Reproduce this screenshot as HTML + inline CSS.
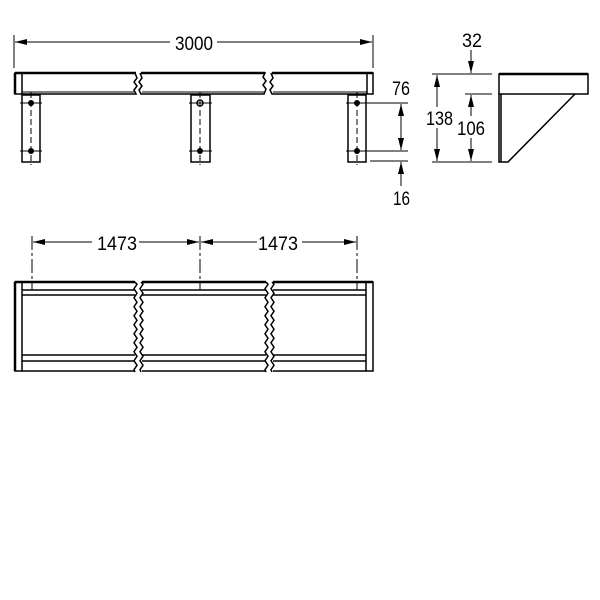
<!DOCTYPE html>
<html><head><meta charset="utf-8"><style>html,body{margin:0;padding:0;background:#fff}svg{display:block}text{font-size:19px}</style></head>
<body>
<svg width="600" height="600" viewBox="0 0 600 600" xmlns="http://www.w3.org/2000/svg" font-family="Liberation Sans, sans-serif" fill="none" stroke="#000">
<defs>
<marker id="a" markerWidth="12" markerHeight="6" refX="12" refY="3" orient="auto" markerUnits="userSpaceOnUse"><path d="M0,0 L12,3 L0,6Z" fill="#000" stroke="none"/></marker>
</defs>
<!-- TOP VIEW -->
<g stroke-width="1">
<line x1="14" y1="35" x2="14" y2="68"/><line x1="373" y1="35" x2="373" y2="68"/>
<line x1="170" y1="42" x2="15" y2="42" marker-end="url(#a)"/>
<line x1="217" y1="42" x2="372" y2="42" marker-end="url(#a)"/>
</g>
<g fill="#000" stroke="none">
<text x="175" y="50" textLength="38" lengthAdjust="spacingAndGlyphs">3000</text>
<text x="392" y="95" textLength="18" lengthAdjust="spacingAndGlyphs">76</text>
<text x="393" y="205" textLength="17" lengthAdjust="spacingAndGlyphs">16</text>
<text x="462" y="47" textLength="20" lengthAdjust="spacingAndGlyphs">32</text>
<text x="426" y="125" textLength="27" lengthAdjust="spacingAndGlyphs">138</text>
<text x="457" y="135" textLength="28" lengthAdjust="spacingAndGlyphs">106</text>
<text x="97" y="250" textLength="40" lengthAdjust="spacingAndGlyphs">1473</text>
<text x="258" y="250" textLength="40" lengthAdjust="spacingAndGlyphs">1473</text>
</g>
<!-- shelf top segments -->
<g stroke-width="1.5">
<path d="M136 73 H15 V94 H136 l-2 -4 l3 -4 l-3 -4 l3 -4 l-2 -5"/>
<line x1="22" y1="73" x2="22" y2="94"/>
<path d="M141 73 H265 l-2 4 l3 4 l-3 4 l3 4 l-2 5 H141 l-2 -4 l3 -4 l-3 -4 l3 -4 l-2 -5"/>
<path d="M272 73 H373 V94 H272 l-2 -4 l3 -4 l-3 -4 l3 -4 l-2 -5"/>
<line x1="367" y1="73" x2="367" y2="94"/>
</g>
<g stroke-width="2.5"><line x1="15" y1="73" x2="136" y2="73"/><line x1="141" y1="73" x2="265" y2="73"/><line x1="272" y1="73" x2="373" y2="73"/><line x1="15" y1="73" x2="15" y2="94"/></g>
<g stroke-width="1"><line x1="22" y1="92" x2="134" y2="92"/><line x1="142" y1="92" x2="264" y2="92"/><line x1="273" y1="92" x2="367" y2="92"/></g>
<!-- legs -->
<g stroke-width="1.5">
<rect x="22" y="95" width="18" height="67"/>
<rect x="191" y="95" width="19" height="67"/>
<rect x="348" y="95" width="18" height="67"/>
</g>
<g stroke-width="1" stroke-dasharray="6,3">
<line x1="31" y1="92" x2="31" y2="165"/><line x1="200" y1="92" x2="200" y2="165"/><line x1="357" y1="92" x2="357" y2="165"/>
</g>
<g fill="#000" stroke="none">
<circle cx="31" cy="103" r="3"/><circle cx="31" cy="151" r="3"/>
<circle cx="200" cy="151" r="3"/><circle cx="357" cy="103" r="3"/><circle cx="357" cy="151" r="3"/>
</g>
<circle cx="200" cy="103" r="3" stroke-width="1.5"/>
<g stroke-width="1">
<line x1="20" y1="103" x2="42" y2="103"/><line x1="20" y1="151" x2="42" y2="151"/>
<line x1="189" y1="103" x2="212" y2="103"/><line x1="189" y1="151" x2="212" y2="151"/>
<line x1="346" y1="103" x2="408" y2="103"/><line x1="346" y1="151" x2="408" y2="151"/>
<line x1="370" y1="161" x2="408" y2="161"/>
<line x1="401" y1="127" x2="401" y2="104" marker-end="url(#a)"/>
<line x1="401" y1="127" x2="401" y2="150" marker-end="url(#a)"/>
<line x1="401" y1="186" x2="401" y2="162" marker-end="url(#a)"/>
</g>
<!-- SIDE VIEW -->
<g stroke-width="1">
<line x1="432" y1="74" x2="492" y2="74"/><line x1="432" y1="162" x2="492" y2="162"/><line x1="465" y1="94" x2="492" y2="94"/>
<line x1="437" y1="107" x2="437" y2="75" marker-end="url(#a)"/>
<line x1="437" y1="128" x2="437" y2="161" marker-end="url(#a)"/>
<line x1="471" y1="50" x2="471" y2="73" marker-end="url(#a)"/>
<line x1="471" y1="116" x2="471" y2="95" marker-end="url(#a)"/>
<line x1="471" y1="138" x2="471" y2="161" marker-end="url(#a)"/>
</g>
<g stroke-width="1.5">
<rect x="499" y="74" width="89" height="20"/>
<path d="M499 94 V162 H508 L575 94"/>
<line x1="501" y1="94" x2="501" y2="162"/>
</g>
<line x1="499" y1="74" x2="588" y2="74" stroke-width="2.5"/>
<!-- BOTTOM VIEW -->
<g stroke-width="1">
<line x1="32" y1="236" x2="32" y2="290" stroke-dasharray="14,3,3,3"/>
<line x1="200" y1="236" x2="200" y2="290" stroke-dasharray="14,3,3,3"/>
<line x1="357" y1="236" x2="357" y2="290" stroke-dasharray="14,3,3,3"/>
<line x1="92" y1="242" x2="33" y2="242" marker-end="url(#a)"/>
<line x1="139" y1="242" x2="199" y2="242" marker-end="url(#a)"/>
<line x1="257" y1="242" x2="201" y2="242" marker-end="url(#a)"/>
<line x1="302" y1="242" x2="356" y2="242" marker-end="url(#a)"/>
</g>
<g stroke-width="1.5">
<rect x="15" y="282" width="7" height="89"/>
<rect x="366" y="282" width="7" height="89"/>
<path d="M22 282 H135 M22 371 H135 M142 282 H266 M142 371 H266 M273 282 H366 M273 371 H366"/>
<path d="M22 290 H135 M22 295 H135 M142 290 H266 M142 295 H266 M273 290 H366 M273 295 H366"/>
<path d="M22 355 H135 M22 361 H135 M142 355 H266 M142 361 H266 M273 355 H366 M273 361 H366"/>
<path d="M135 282 l2 2.25 l-3 4.5 l3 4.5 l-3 4.5 l3 4.5 l-3 4.5 l3 4.5 l-3 4.5 l3 4.5 l-3 4.5 l3 4.5 l-3 4.5 l3 4.5 l-3 4.5 l3 4.5 l-3 4.5 l3 4.5 l-3 4.5 l3 4.5 l-3 4.5 l1 2.25"/>
<path d="M141 282 l2 2.25 l-3 4.5 l3 4.5 l-3 4.5 l3 4.5 l-3 4.5 l3 4.5 l-3 4.5 l3 4.5 l-3 4.5 l3 4.5 l-3 4.5 l3 4.5 l-3 4.5 l3 4.5 l-3 4.5 l3 4.5 l-3 4.5 l3 4.5 l-3 4.5 l1 2.25"/>
<path d="M266 282 l2 2.25 l-3 4.5 l3 4.5 l-3 4.5 l3 4.5 l-3 4.5 l3 4.5 l-3 4.5 l3 4.5 l-3 4.5 l3 4.5 l-3 4.5 l3 4.5 l-3 4.5 l3 4.5 l-3 4.5 l3 4.5 l-3 4.5 l3 4.5 l-3 4.5 l1 2.25"/>
<path d="M272 282 l2 2.25 l-3 4.5 l3 4.5 l-3 4.5 l3 4.5 l-3 4.5 l3 4.5 l-3 4.5 l3 4.5 l-3 4.5 l3 4.5 l-3 4.5 l3 4.5 l-3 4.5 l3 4.5 l-3 4.5 l3 4.5 l-3 4.5 l3 4.5 l-3 4.5 l1 2.25"/>
</g>
<g stroke-width="2.5"><path d="M15 282 H135 M142 282 H266 M273 282 H373 M15 282 V371"/></g>
</svg>
</body></html>
